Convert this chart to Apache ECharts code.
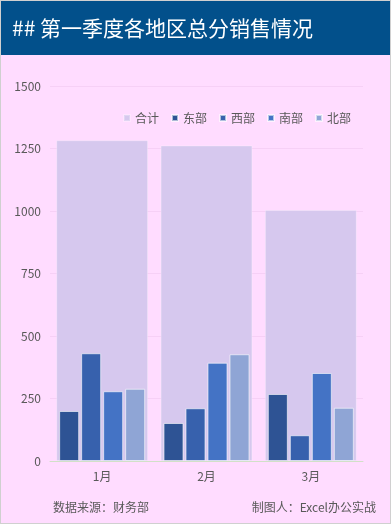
<!DOCTYPE html>
<html><head><meta charset="utf-8">
<script src="https://cdn.jsdelivr.net/npm/echarts@6/dist/echarts.min.js"></script>
<style>
html,body{margin:0;padding:0;width:391px;height:524px;overflow:hidden;}
#wrap{position:absolute;left:0;top:0;width:389px;height:522px;border:1px solid #d0d0d0;background:#ffdcff;}
#c{position:absolute;left:0;top:0;width:389px;height:522px;}
</style></head>
<body><div id="wrap"><div id="c"></div></div>
<script>
const categories = ['1月','2月','3月'];
const totalValues = [1283, 1262, 1004];
const eastValues = [200, 152, 268];
const westValues = [431, 211, 103];
const southValues = [279, 393, 352];
const northValues = [289, 427, 213];
const yTicks = [0, 250, 500, 750, 1000, 1250, 1500];

const chart = echarts.init(document.getElementById('c'));
const font = '"Noto Sans CJK SC", "Noto Sans", sans-serif';
const mk = (name, data, color) => ({
  name, type:'bar', data, xAxisIndex:0, barWidth:20, barGap:'10%',
  itemStyle:{color, borderColor:'rgba(255,255,255,0.6)', borderWidth:1}
});
chart.setOption({
  animation:false,
  textStyle:{fontFamily:font},
  graphic:[
    {type:'rect', left:0, top:0, shape:{width:389, height:54}, style:{fill:'#02508b'}},
    {type:'text', left:11, top:17, style:{text:'## 第一季度各地区总分销售情况', fill:'#fff', font:'21px '+font}},
    {type:'text', left:52, top:500, style:{text:'数据来源：财务部', fill:'#595959', font:'12px '+font}},
    {type:'text', right:14, top:500, style:{text:'制图人：Excel办公实战', fill:'#595959', font:'12px '+font}}
  ],
  legend:{
    top:106, left:117, itemWidth:6, itemHeight:6, itemGap:12, icon:'rect',
    textStyle:{color:'#595959', fontSize:12, fontFamily:font},
    data:['合计','东部','西部','南部','北部']
  },
  grid:{left:49, right:27, top:85, bottom:62, containLabel:false},
  xAxis:[
    {type:'category', data:categories, axisTick:{show:false},
     axisLine:{lineStyle:{color:'#d2e0c8', width:1}},
     axisLabel:{color:'#595959', fontSize:12, margin:9}},
    {type:'category', data:categories, show:false}
  ],
  yAxis:{type:'value', min:yTicks[0], max:yTicks[yTicks.length-1], interval:250,
    axisLine:{show:false}, axisTick:{show:false},
    axisLabel:{color:'#595959', fontSize:12, margin:9, formatter:v => String(v)},
    splitLine:{lineStyle:{color:'#f6d0f6', width:1}}},
  series:[
    {name:'合计', type:'bar', data:totalValues, xAxisIndex:1, barWidth:'88%',
     itemStyle:{color:'#d6c8ee', borderColor:'rgba(255,255,255,0.25)', borderWidth:1}, z:1},
    mk('东部', eastValues, '#2e5394'),
    mk('西部', westValues, '#3761ad'),
    mk('南部', southValues, '#4473c5'),
    mk('北部', northValues, '#8fa5d5')
  ]
});
</script></body></html>
